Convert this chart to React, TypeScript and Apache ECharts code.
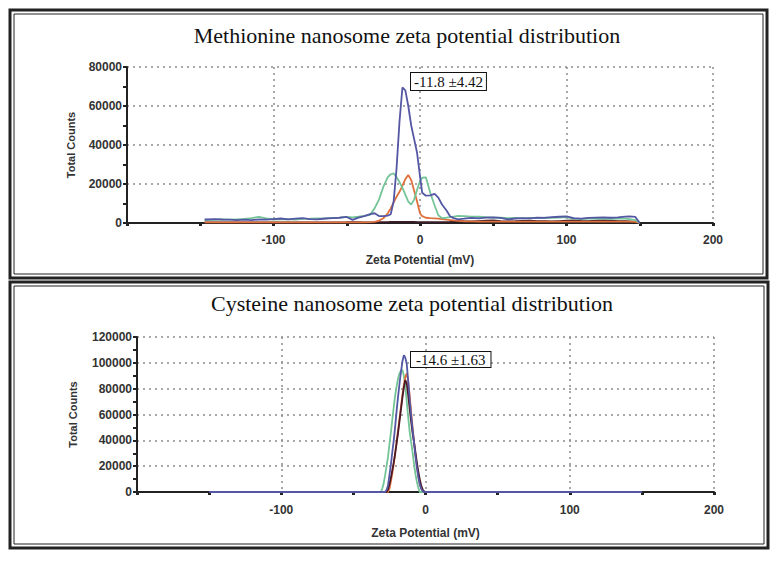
import React, { useEffect, useRef } from "react";
import * as echarts from "echarts";

// ---------- Panel 1: Methionine ----------
const metTitle = "Methionine nanosome zeta potential distribution";
const metNote = "-11.8 \u00b14.42";
const metX = [
  -147, -140, -135, -130, -125, -120, -115, -110, -105, -100,
  -95, -90, -85, -80, -75, -70, -65, -60, -55, -50,
  -46, -42, -38, -34, -31, -28, -25, -22, -20, -18,
  -16, -14, -12, -10, -8, -6, -4, -2, 0, 1.5,
  4, 7, 10, 12.5, 15, 18, 20.5, 23, 26, 30,
  35, 40, 45, 50, 55, 60, 65, 70, 75, 80,
  85, 90, 95, 100, 105, 110, 115, 120, 125, 130,
  135, 140, 143, 147, 150,
];
const metBlue = [
  1800, 2000, 1800, 1700, 1500, 1700, 1500, 1800, 1700, 2000,
  2300, 1900, 2200, 2500, 2000, 1900, 2300, 2500, 2700, 3100,
  1600, 2800, 3500, 4500, 5000, 3600, 3500, 3800, 4500, 11000,
  28000, 52000, 69500, 68000, 60000, 50000, 43000, 36000, 24000, 15500,
  14000, 14200, 14900, 13000, 9500, 6500, 3500, 2500, 1900, 2200,
  2600, 2400, 2800, 2900, 2600, 1800, 2300, 2500, 2400, 2800,
  2600, 3000, 3200, 3400, 2500, 2200, 2600, 2800, 2900, 2700,
  2900, 3300, 3400, 3100, 0,
];
const metGreen = [
  1500, 1600, 1800, 1700, 1900, 2100, 2500, 3200, 2400, 1800,
  1900, 2000, 1800, 2100, 2200, 2400, 2200, 2600, 2800, 3100,
  2900, 3200, 3600, 4200, 7500, 12000, 18600, 23500, 25000, 25400,
  23500, 21000, 18000, 14500, 11000, 9400, 12000, 17000, 21500, 23200,
  23400, 15500, 9000, 4000, 2500, 2700, 3000, 3300, 3600, 3500,
  3300, 3200, 3000, 2800, 2700, 2500, 2600, 2400, 2600, 2500,
  2700, 2600, 2800, 3000, 2200, 2000, 2300, 2400, 2200, 2100,
  2300, 2200, 2000, 1500, 0,
];
const metOrange = [
  300, 300, 300, 300, 300, 300, 300, 300, 300, 300,
  300, 300, 300, 300, 300, 300, 300, 300, 300, 300,
  300, 300, 300, 400, 600, 1200, 2400, 5000, 7500, 10500,
  13500, 16000, 19000, 22500, 24600, 22000, 16500, 11000, 5000, 3500,
  2700, 2500, 2400, 2200, 2000, 1700, 1500, 1300, 1100, 900,
  800, 700, 700, 700, 700, 700, 700, 700, 700, 700,
  700, 700, 700, 700, 700, 700, 700, 700, 700, 700,
  700, 700, 700, 600, 0,
];
const metDark = [
  300, 300, 300, 300, 300, 300, 300, 300, 300, 300,
  300, 300, 300, 300, 300, 300, 300, 300, 300, 400,
  500, 400, 300, 300, 300, 400, 500, 500, 600, 600,
  600, 600, 600, 600, 600, 600, 600, 500, 500, 500,
  500, 500, 500, 500, 500, 500, 600, 800, 1000, 900,
  800, 1000, 1200, 1300, 1000, 800, 900, 1100, 1200, 1000,
  900, 800, 1000, 1200, 1300, 1100, 1000, 1200, 1300, 1200,
  1000, 900, 800, 600, 0,
];

// ---------- Panel 2: Cysteine ----------
const cysTitle = "Cysteine nanosome zeta potential distribution";
const cysNote = "-14.6 \u00b11.63";
const cysX = [
  -150, -32, -31, -30, -29, -28, -27, -26, -25, -24,
  -23, -22, -21, -20, -19, -18, -17, -16, -15, -14,
  -13, -12, -11, -10, -9, -8, -7, -6, -5, -4,
  -3, -2, -1, 0, 1, 150,
];
const cysBlue = [
  0, 0, 0, 0, 0, 0, 1500, 5000, 13000, 21000,
  31000, 40000, 51000, 63000, 74000, 84000, 93000, 101000, 106000, 104000,
  99000, 86000, 72000, 60000, 49000, 39000, 28000, 19000, 12000, 6000,
  2500, 800, 0, 0, 0, 0,
];
const cysGreen = [
  0, 0, 0, 2500, 6700, 13000, 20000, 27000, 37000, 46000,
  56000, 66000, 75000, 82000, 88000, 92000, 94000, 94400, 90000, 82000,
  70000, 58000, 47000, 39000, 31000, 22000, 14000, 8000, 3500, 0,
  0, 0, 0, 0, 0, 0,
];
const cysOrange = [
  0, 0, 0, 0, 0, 0, 0, 0, 2500, 8000,
  14500, 22000, 30000, 39000, 48000, 57000, 66000, 75000, 83000, 89000,
  91800, 86000, 75000, 62000, 50000, 39000, 29000, 21000, 12000, 6500,
  3000, 1000, 0, 0, 0, 0,
];
const cysDark = [
  0, 0, 0, 0, 0, 0, 0, 2000, 6000, 11000,
  17000, 23000, 30000, 38000, 46000, 55000, 64000, 73000, 81000, 86700,
  84000, 75000, 65000, 55000, 46000, 39000, 31000, 23000, 16000, 10000,
  5000, 2000, 500, 0, 0, 0,
];

const xLabelValues = [-100, 0, 100, 200];
const yAxisName = "Total Counts";
const xAxisName = "Zeta Potential (mV)";

const C_BLUE = "#5457a3";
const C_GREEN = "#74c497";
const C_ORANGE = "#e0703c";
const C_DARK = "#3b1b28";

const pairs = (xs: number[], ys: number[]) => xs.map((x, i) => [x, ys[i]]);

const labelFont = {
  fontFamily: "Arial, 'Liberation Sans', sans-serif",
  fontWeight: "bold" as const,
  color: "#333",
};

function xAxisCfg(gridIndex: number, margin: number, nameGap: number) {
  return {
    gridIndex,
    type: "value" as const,
    min: -200,
    max: 200,
    interval: 100,
    axisLine: { show: true, onZero: false, lineStyle: { color: "#222", width: 2 } },
    axisTick: { show: true, length: 3, lineStyle: { color: "#222", width: 3 } },
    minorTick: { show: true, splitNumber: 2, length: 3, lineStyle: { color: "#222", width: 3 } },
    splitLine: { show: true, lineStyle: { type: [2, 4], color: "#8c8c8c", width: 1.5 } },
    axisLabel: {
      ...labelFont,
      fontSize: 12,
      margin,
      formatter: (v: number) => (xLabelValues.includes(v) ? String(v) : ""),
    },
    name: xAxisName,
    nameLocation: "middle" as const,
    nameGap,
    nameTextStyle: { ...labelFont, fontSize: 12 },
  };
}

function yAxisCfg(gridIndex: number, max: number, nameGap: number) {
  return {
    gridIndex,
    type: "value" as const,
    min: 0,
    max,
    interval: 20000,
    axisLine: { show: true, onZero: false, lineStyle: { color: "#222", width: 2 } },
    axisTick: { show: true, length: 4, lineStyle: { color: "#222", width: 2 } },
    minorTick: { show: true, splitNumber: 2, length: 4, lineStyle: { color: "#222", width: 2 } },
    splitLine: { show: true, lineStyle: { type: [2, 4], color: "#8c8c8c", width: 1.5 } },
    axisLabel: { ...labelFont, fontSize: 12, margin: 5, formatter: (v: number) => String(v) },
    name: yAxisName,
    nameLocation: "middle" as const,
    nameGap,
    nameTextStyle: { ...labelFont, fontSize: 11 },
  };
}

function lineSeries(name: string, xs: number[], ys: number[], color: string, idx: number) {
  return {
    name,
    type: "line" as const,
    xAxisIndex: idx,
    yAxisIndex: idx,
    data: pairs(xs, ys),
    showSymbol: false,
    symbol: "none",
    lineStyle: { color, width: 1.8 },
    itemStyle: { color },
    z: 3,
  };
}

export default function App() {
  const ref = useRef<HTMLDivElement>(null);
  useEffect(() => {
    if (!ref.current) return;
    const chart = echarts.init(ref.current, undefined, { renderer: "svg" });
    const serif = "'Liberation Serif', 'Times New Roman', serif";
    chart.setOption({
      animation: false,
      backgroundColor: "#ffffff",
      grid: [
        { left: 127, top: 67, width: 586, height: 156 },
        { left: 137, top: 337, width: 577, height: 155 },
      ],
      xAxis: [xAxisCfg(0, 11, 31), xAxisCfg(1, 12, 35)],
      yAxis: [yAxisCfg(0, 80000, 51), yAxisCfg(1, 120000, 59)],
      series: [
        lineSeries("Run 4", metX, metDark, C_DARK, 0),
        lineSeries("Run 3", metX, metOrange, C_ORANGE, 0),
        lineSeries("Run 2", metX, metGreen, C_GREEN, 0),
        lineSeries("Run 1", metX, metBlue, C_BLUE, 0),
        lineSeries("Run 2", cysX, cysGreen, C_GREEN, 1),
        lineSeries("Run 3", cysX, cysOrange, C_ORANGE, 1),
        lineSeries("Run 4", cysX, cysDark, "#4a1827", 1),
        lineSeries("Run 1", cysX, cysBlue, C_BLUE, 1),
      ],
      graphic: [
        { type: "rect", shape: { x: 10, y: 10, width: 757, height: 268 }, style: { fill: "none", stroke: "#222", lineWidth: 3 }, silent: true },
        { type: "rect", shape: { x: 14, y: 14, width: 749, height: 260 }, style: { fill: "none", stroke: "#222", lineWidth: 1 }, silent: true },
        { type: "rect", shape: { x: 10, y: 282, width: 758, height: 266 }, style: { fill: "none", stroke: "#222", lineWidth: 3 }, silent: true },
        { type: "rect", shape: { x: 14, y: 286, width: 750, height: 258 }, style: { fill: "none", stroke: "#222", lineWidth: 1 }, silent: true },
        {
          type: "text", x: 407, y: 35,
          style: { text: metTitle, font: `22px ${serif}`, fill: "#111", textAlign: "center", textVerticalAlign: "middle" },
        },
        {
          type: "text", x: 412, y: 303,
          style: { text: cysTitle, font: `22px ${serif}`, fill: "#111", textAlign: "center", textVerticalAlign: "middle" },
        },
        {
          type: "text", x: 411, y: 73, z: 10,
          style: {
            text: metNote, font: `15px ${serif}`, fill: "#111",
            backgroundColor: "#fff", borderColor: "#111", borderWidth: 1, padding: [1, 3],
          },
        },
        {
          type: "text", x: 411, y: 352, z: 10,
          style: {
            text: cysNote, font: `15px ${serif}`, fill: "#111",
            backgroundColor: "#fff", borderColor: "#111", borderWidth: 1, padding: [0, 5],
          },
        },
      ],
    });
    return () => chart.dispose();
  }, []);
  return (
    <div
      ref={ref}
      style={{ position: "absolute", left: 0, top: 0, width: 778, height: 562 }}
    />
  );
}
